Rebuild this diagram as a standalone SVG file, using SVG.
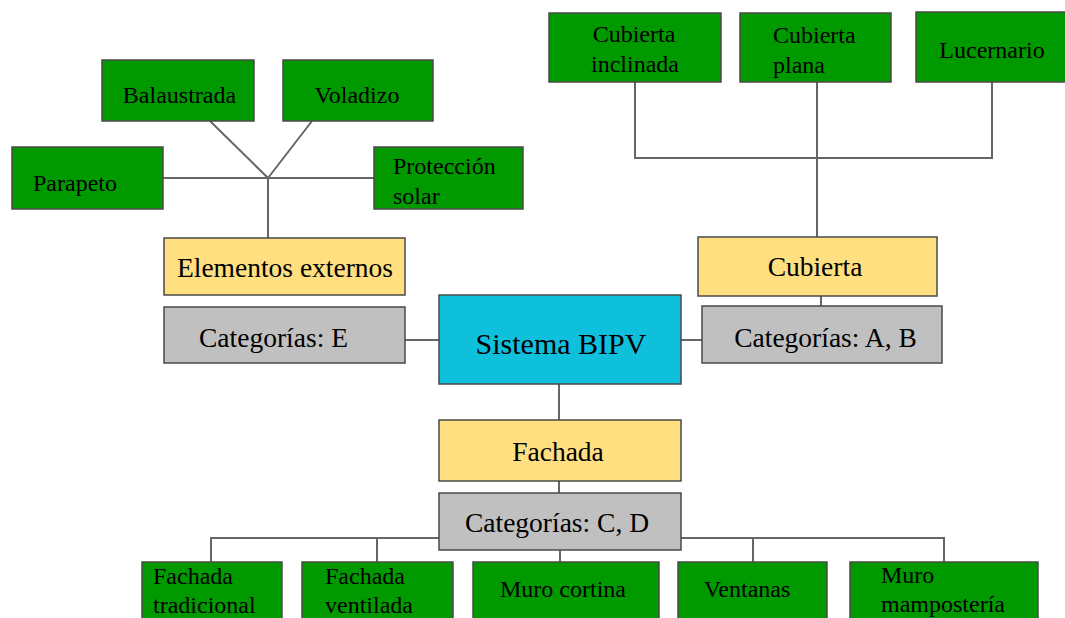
<svg xmlns="http://www.w3.org/2000/svg" width="1065" height="618" viewBox="0 0 1065 618">
<style>
.g{fill:#009a00;stroke:#4a4a4a;stroke-width:1.5}
.y{fill:#ffdf80;stroke:#4a4a4a;stroke-width:1.5}
.c{fill:#c0c0c0;stroke:#4a4a4a;stroke-width:1.5}
.b{fill:#0ec0dc;stroke:#4a4a4a;stroke-width:1.5}
text{font-family:"Liberation Serif","Times New Roman",serif;fill:#000}
.s{font-size:24px}
.m{font-size:27.5px}
.l{font-size:30px}
.mid{text-anchor:middle}
.con line,.con polyline{stroke:#666;stroke-width:2;fill:none}
</style>
<rect width="1065" height="618" fill="#fff"/>
<g class="con">
<line x1="210" y1="121" x2="268" y2="178"/>
<line x1="312" y1="121" x2="268" y2="178"/>
<line x1="163" y1="178" x2="374" y2="178"/>
<line x1="268" y1="178" x2="268" y2="238"/>
<polyline points="635,82 635,158 992,158 992,82"/>
<line x1="817" y1="82" x2="817" y2="237"/>
<line x1="821" y1="296" x2="821" y2="306"/>
<line x1="405" y1="340" x2="439" y2="340"/>
<line x1="681" y1="340" x2="702" y2="340"/>
<line x1="559" y1="384" x2="559" y2="420"/>
<line x1="559" y1="481" x2="559" y2="493"/>
<polyline points="211,562 211,538 439,538"/>
<line x1="377" y1="538" x2="377" y2="562"/>
<polyline points="681,538 944,538 944,562"/>
<line x1="753" y1="538" x2="753" y2="562"/>
<line x1="560" y1="550" x2="560" y2="562"/>
</g>
<g id="balaustrada"><rect class="g" x="102" y="60" width="152" height="61"/><text class="s mid" x="179.5" y="103">Balaustrada</text></g>
<g id="voladizo"><rect class="g" x="283" y="60" width="150" height="61"/><text class="s mid" x="357" y="103">Voladizo</text></g>
<g id="parapeto"><rect class="g" x="12" y="147" width="151" height="62"/><text class="s" x="33" y="191">Parapeto</text></g>
<g id="proteccion"><rect class="g" x="374" y="147" width="149" height="62"/><text class="s" x="393" y="174">Protección</text><text class="s" x="393" y="204">solar</text></g>
<g id="elementos"><rect class="y" x="164" y="238" width="241" height="57"/><text class="m mid" x="285" y="277">Elementos externos</text></g>
<g id="catE"><rect class="c" x="164" y="307" width="241" height="56"/><text class="m mid" x="273.5" y="347">Categorías: E</text></g>
<g id="sistema"><rect class="b" x="439" y="295" width="242" height="89"/><text class="l mid" x="561" y="354">Sistema BIPV</text></g>
<g id="catAB"><rect class="c" x="702" y="306" width="240" height="57"/><text class="m mid" x="825.5" y="347">Categorías: A, B</text></g>
<g id="cubierta"><rect class="y" x="698" y="237" width="239" height="59"/><text class="m mid" x="815" y="276">Cubierta</text></g>
<g id="inclinada"><rect class="g" x="549" y="13" width="172" height="69"/><text class="s mid" x="634" y="42">Cubierta</text><text class="s mid" x="635" y="72">inclinada</text></g>
<g id="plana"><rect class="g" x="740" y="13" width="151" height="69"/><text class="s" x="773" y="43">Cubierta</text><text class="s" x="773" y="73">plana</text></g>
<g id="lucernario"><rect class="g" x="916" y="12" width="160" height="70"/><text class="s mid" x="992" y="58">Lucernario</text></g>
<g id="fachada"><rect class="y" x="439" y="420" width="242" height="61"/><text class="m mid" x="558" y="461">Fachada</text></g>
<g id="catCD"><rect class="c" x="439" y="493" width="242" height="57"/><text class="m mid" x="557" y="532">Categorías: C, D</text></g>
<g id="tradicional"><rect class="g" x="142" y="562" width="140" height="70"/><text class="s" x="153" y="584">Fachada</text><text class="s" x="153" y="613">tradicional</text></g>
<g id="ventilada"><rect class="g" x="302" y="562" width="151" height="70"/><text class="s" x="325" y="584">Fachada</text><text class="s" x="325" y="613">ventilada</text></g>
<g id="cortina"><rect class="g" x="473" y="562" width="186" height="70"/><text class="s mid" x="563" y="597">Muro cortina</text></g>
<g id="ventanas"><rect class="g" x="678" y="562" width="149" height="70"/><text class="s mid" x="747" y="597">Ventanas</text></g>
<g id="mamposteria"><rect class="g" x="850" y="562" width="188" height="70"/><text class="s" x="881" y="583">Muro</text><text class="s" x="881" y="612">mampostería</text></g>
</svg>
